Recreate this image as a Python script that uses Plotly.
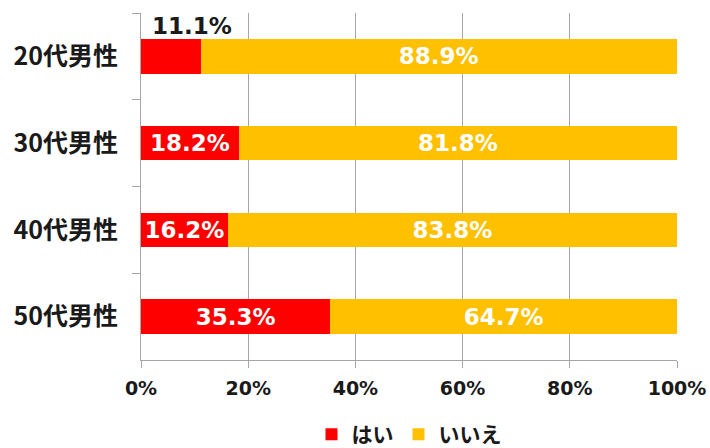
import plotly.graph_objects as go

categories = ["20代男性", "30代男性", "40代男性", "50代男性"]
yes_vals = [0.111, 0.182, 0.162, 0.353]
no_vals = [0.889, 0.818, 0.838, 0.647]
x_ticks = [0, 0.2, 0.4, 0.6, 0.8, 1.0]
x_tick_labels = ["0%", "20%", "40%", "60%", "80%", "100%"]

CJK = "Noto Sans CJK JP, sans-serif"
NUM = "DejaVu Sans, Noto Sans CJK JP, sans-serif"

yes_text = [f"{v*100:.1f}%" if v >= 0.15 else "" for v in yes_vals]
no_text = [f"{v*100:.1f}%" for v in no_vals]

fig = go.Figure()
fig.add_trace(go.Bar(
    y=categories, x=yes_vals, orientation="h", name="はい",
    marker=dict(color="#FF0000", line=dict(width=0)),
    text=yes_text, textposition="inside", insidetextanchor="middle",
    textangle=0, constraintext="none",
    textfont=dict(color="white", size=23, family=NUM, weight="bold"),
))
fig.add_trace(go.Bar(
    y=categories, x=no_vals, orientation="h", name="いいえ",
    marker=dict(color="#FFC000", line=dict(width=0)),
    text=no_text, textposition="inside", insidetextanchor="middle",
    textangle=0, constraintext="none",
    textfont=dict(color="white", size=23, family=NUM, weight="bold"),
))

# small value label placed above the bar (outside)
for c, v in zip(categories, yes_vals):
    if v < 0.15:
        fig.add_annotation(x=v * 0.86, y=c, text=f"{v*100:.1f}%", showarrow=False,
                           yshift=30, font=dict(color="#1a1a1a", size=23, family=NUM, weight="bold"))

fig.update_layout(
    barmode="stack", bargap=0.6,
    width=710, height=448,
    margin=dict(l=141, r=33, t=13, b=88, autoexpand=False),
    paper_bgcolor="white", plot_bgcolor="white",
    font=dict(family=CJK, color="#1a1a1a", weight="bold"),
    showlegend=True,
    legend=dict(orientation="h", x=0.5, xanchor="center", yref="container", y=0.03, yanchor="middle",
                font=dict(size=21, family=CJK, weight="bold"),
                itemwidth=30, traceorder="normal"),
    uniformtext=dict(mode="show", minsize=23),
    hovermode=False,
)
fig.update_xaxes(
    range=[0, 1], tickvals=x_ticks, ticktext=x_tick_labels,
    showgrid=True, gridcolor="#a6a6a6", gridwidth=1,
    showline=True, linecolor="#a6a6a6", linewidth=1,
    ticks="outside", ticklen=7, tickcolor="#a6a6a6",
    tickfont=dict(size=19, family=NUM, weight="bold", color="#1a1a1a"),
    ticklabelstandoff=4,
    zeroline=False, fixedrange=True,
)
fig.update_yaxes(
    categoryorder="array", categoryarray=categories, autorange="reversed",
    showline=True, linecolor="#a6a6a6", linewidth=1,
    ticks="outside", ticklen=8, tickcolor="#a6a6a6", tickson="boundaries",
    tickfont=dict(size=25, family=CJK, weight="bold", color="#1a1a1a"),
    ticklabelstandoff=17, showgrid=False, fixedrange=True,
)

fig.write_html("out.html",
               config={"displayModeBar": False, "staticPlot": True},
               post_script="document.body.style.margin='0';document.body.style.overflow='hidden';")
